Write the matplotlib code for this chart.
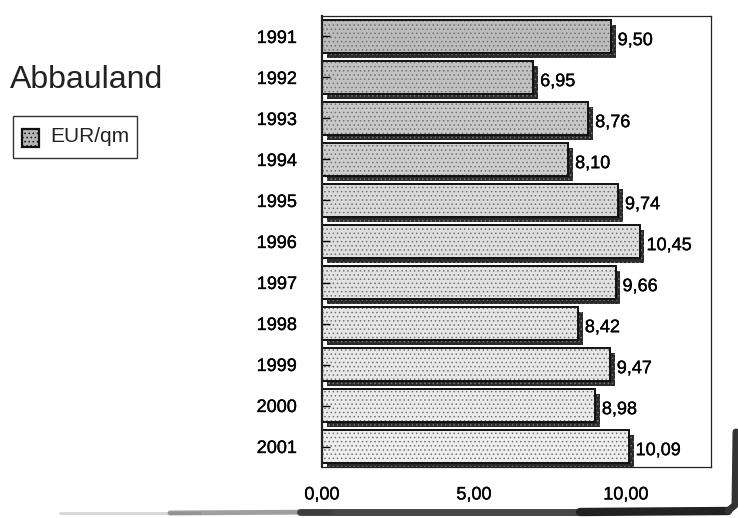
import matplotlib
matplotlib.use("Agg")
import matplotlib.pyplot as plt
import matplotlib.patheffects as pe
from matplotlib.lines import Line2D
from matplotlib.patches import Rectangle

plt.rcParams["font.family"] = ["Liberation Sans", "DejaVu Sans"]
plt.rcParams["hatch.linewidth"] = 0.6

# Data
years = ["1991", "1992", "1993", "1994", "1995", "1996",
         "1997", "1998", "1999", "2000", "2001"]
price_eur_qm = [9.50, 6.95, 8.76, 8.10, 9.74, 10.45,
                9.66, 8.42, 9.47, 8.98, 10.09]
xtick_values = [0, 5, 10]
title_text = "Abbauland"
series_name = "EUR/qm"

W, H = 738, 518
fig = plt.figure(figsize=(W / 100, H / 100), dpi=100)
fig.patch.set_facecolor("white")

ax = fig.add_axes([322 / W, 1 - 467 / H, (711 - 322) / W, (467 - 16) / H])

# stippled fill: darker at the top, lighter towards the bottom
faces = ["#bcbcbc", "#c2c2c2", "#c8c8c8", "#cdcdcd", "#dadada", "#dedede",
         "#e2e2e2", "#e6e6e6", "#e8e8e8", "#ebebeb", "#eeeeee"]

ink = pe.withStroke(linewidth=0.25, foreground="#000000")

ypos = list(range(len(years)))
bars = ax.barh(ypos, price_eur_qm, height=0.82, color=faces,
               edgecolor="#111111", linewidth=1.4, hatch="....")
for b in bars:
    b._hatch_color = (0.45, 0.45, 0.45, 1.0)
    b.set_path_effects([
        pe.SimplePatchShadow(offset=(3.5, -3.5), shadow_rgbFace="#2a2a2a", alpha=1.0),
        pe.Normal(),
    ])

for y, v in zip(ypos, price_eur_qm):
    ax.annotate(f"{v:.2f}".replace(".", ","), xy=(v, y), xytext=(5, -3),
                textcoords="offset points", ha="left", va="center",
                fontsize=13, color="#000000", path_effects=[ink])

ax.set_xlim(0, 12.8)
ax.set_ylim(len(years) - 0.5, -0.5)
ax.set_yticks(ypos)
ax.set_yticklabels(years)
ax.set_xticks(xtick_values)
ax.set_xticklabels([f"{t:.2f}".replace(".", ",") for t in xtick_values])
ax.tick_params(axis="y", direction="in", length=6, width=1, pad=18,
               labelsize=13, colors="#000000")
ax.tick_params(axis="x", length=0, pad=14, labelsize=13, colors="#000000")
for lbl in ax.get_xticklabels() + ax.get_yticklabels():
    lbl.set_path_effects([ink])
for s in ax.spines.values():
    s.set_linewidth(0.9)
    s.set_color("#222222")
ax.spines["left"].set_linewidth(1.6)
ax.set_facecolor("white")

# title and legend on the left
fig.text(10 / W, 1 - 80 / H, title_text, fontsize=23, ha="left", va="center",
         color="#222222")
leg_box = Rectangle((13 / W, 1 - 158 / H), (137 - 13) / W, (158 - 116) / H,
                    transform=fig.transFigure, facecolor="white",
                    edgecolor="#333333", linewidth=1.0)
fig.add_artist(leg_box)
leg_patch = Rectangle((22 / W, 1 - 147 / H), 17 / W, 18 / H,
                      transform=fig.transFigure, facecolor="#b5b5b5",
                      edgecolor="#111111", linewidth=1.6, hatch="....")
fig.add_artist(leg_patch)
fig.text(50 / W, 1 - 137 / H, series_name, fontsize=15, ha="left",
         va="center", color="#222222")

# drop shadow of the chart frame
def fig_line(xs, ys, lw, color, alpha=1.0):
    fig.add_artist(Line2D([x / W for x in xs], [1 - y / H for y in ys],
                          transform=fig.transFigure, linewidth=lw,
                          color=color, alpha=alpha, solid_capstyle="round"))

fig_line([60, 200], [513, 513], 2, "#bbbbbb", 0.6)
fig_line([170, 330], [513, 512], 3.5, "#777777", 0.7)
fig_line([300, 600], [512, 512], 5, "#333333", 0.9)
fig_line([580, 728], [512, 511], 6, "#222222")
fig_line([728, 735, 736], [511, 505, 432], 5, "#333333")

fig.savefig("out.png", dpi=100)
